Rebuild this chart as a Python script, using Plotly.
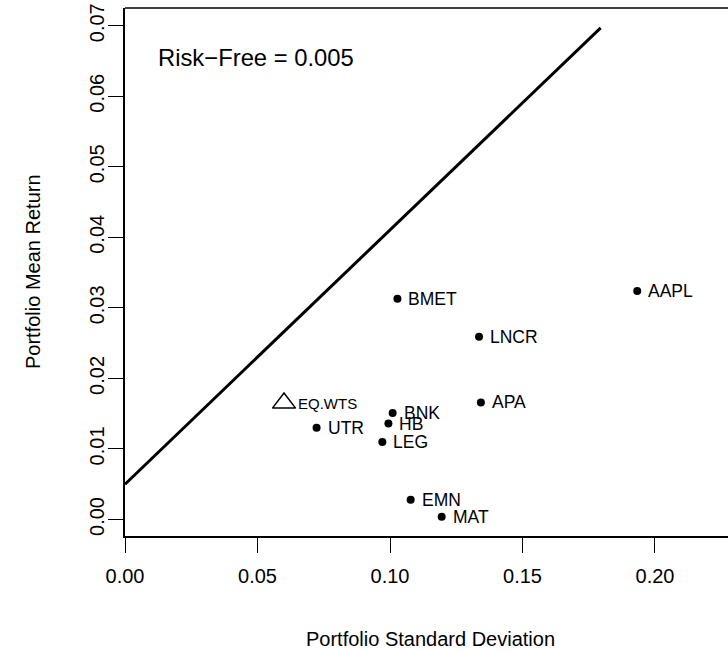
import plotly.graph_objects as go

# Data
assets = ["BMET", "AAPL", "LNCR", "APA", "BNK", "HB", "UTR", "LEG", "EMN", "MAT"]
asset_sd = [0.1028, 0.1933, 0.1336, 0.1343, 0.1010, 0.0994, 0.0723, 0.0971, 0.1078, 0.1195]
asset_mean = [0.0313, 0.0324, 0.0259, 0.0166, 0.0151, 0.0136, 0.0130, 0.0110, 0.0028, 0.0004]

eq_name = ["EQ.WTS"]
eq_sd = [0.0600]
eq_mean = [0.0165]

line_sd = [0.0, 0.1795]
line_mean = [0.005, 0.0697]

risk_free_text = "Risk\u2212Free = 0.005"
x_ticks = [0.00, 0.05, 0.10, 0.15, 0.20]
x_ticklabels = ["0.00", "0.05", "0.10", "0.15", "0.20"]
y_ticks = [0.00, 0.01, 0.02, 0.03, 0.04, 0.05, 0.06, 0.07]
y_ticklabels = ["0.00", "0.01", "0.02", "0.03", "0.04", "0.05", "0.06", "0.07"]

FONT = "Liberation Sans, Arial, Helvetica, sans-serif"

fig = go.Figure()
fig.add_trace(go.Scatter(x=line_sd, y=line_mean, mode="lines",
                         line=dict(color="black", width=3), hoverinfo="skip"))
fig.add_trace(go.Scatter(x=asset_sd, y=asset_mean, mode="markers",
                         marker=dict(color="black", size=8)))
fig.add_trace(go.Scatter(x=eq_sd, y=eq_mean, mode="markers",
                         marker=dict(symbol="triangle-up-open", color="black", size=20,
                                     line=dict(width=1.5, color="black"))))

annotations = []
for n, xv, yv in zip(assets, asset_sd, asset_mean):
    annotations.append(dict(x=xv, y=yv, text=n, showarrow=False, xanchor="left",
                            yanchor="middle", xshift=9,
                            font=dict(family=FONT, size=17.5, color="black")))
for n, xv, yv in zip(eq_name, eq_sd, eq_mean):
    annotations.append(dict(x=xv, y=yv, text=n, showarrow=False, xanchor="left",
                            yanchor="middle", xshift=12,
                            font=dict(family=FONT, size=15, color="black")))
annotations.append(dict(x=0.0118, y=0.0655, text=risk_free_text, showarrow=False,
                        xanchor="left", yanchor="middle",
                        font=dict(family=FONT, size=23.8, color="black")))
annotations.append(dict(x=0.506, xref="paper", y=0, yref="paper", yshift=-103,
                        text="Portfolio Standard Deviation", showarrow=False,
                        xanchor="center", yanchor="middle",
                        font=dict(family=FONT, size=20, color="black")))
annotations.append(dict(x=0, xref="paper", xshift=-92, y=0.5, yref="paper",
                        text="Portfolio Mean Return", showarrow=False, textangle=-90,
                        xanchor="center", yanchor="middle",
                        font=dict(family=FONT, size=20, color="black")))

fig.update_layout(
    width=728, height=653,
    margin=dict(l=125, r=0, t=8, b=117),
    paper_bgcolor="white", plot_bgcolor="white",
    showlegend=False,
    annotations=annotations,
    font=dict(family=FONT, size=20, color="black"),
    shapes=[dict(type="line", xref="paper", yref="paper", x0=0, x1=1, y0=1, y1=1,
                 line=dict(color="black", width=1.5))],
)
fig.update_xaxes(range=[0, 0.22755], tickvals=x_ticks, ticktext=x_ticklabels,
                 showgrid=False, zeroline=False, showline=True, linecolor="black",
                 linewidth=1.5, ticks="outside", ticklen=15, tickwidth=1.2,
                 tickcolor="black", ticklabelstandoff=6,
                 tickfont=dict(family=FONT, size=20, color="black"))
fig.update_yaxes(range=[-0.00234, 0.07251], tickvals=y_ticks, ticktext=y_ticklabels,
                 showgrid=False, zeroline=False, showline=True, linecolor="black",
                 linewidth=1.5, ticks="outside", ticklen=15, tickwidth=1.2,
                 tickcolor="black", tickangle=-90, ticklabelstandoff=-4,
                 tickfont=dict(family=FONT, size=20, color="black"))

fig.write_html("out.html", config={"displayModeBar": False},
               post_script="document.body.style.margin='0';document.body.style.overflow='hidden';")
